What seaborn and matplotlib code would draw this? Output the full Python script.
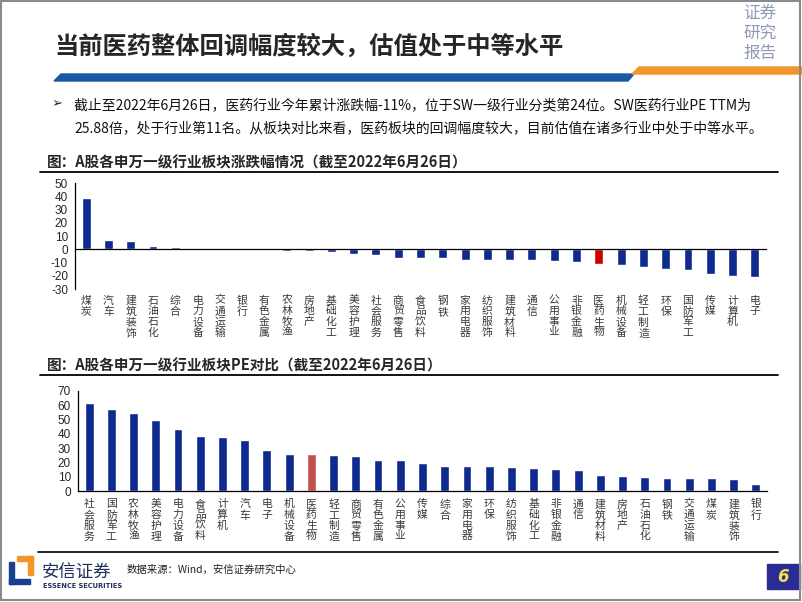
import matplotlib
matplotlib.use("Agg")
import matplotlib.pyplot as plt
import seaborn as sns
import numpy as np
from matplotlib.patches import Polygon, Rectangle

# 申万一级行业 今年累计涨跌幅 (%)
chg_names = ["煤炭", "汽车", "建筑装饰", "石油石化", "综合", "电力设备", "交通运输", "银行",
             "有色金属", "农林牧渔", "房地产", "基础化工", "美容护理", "社会服务", "商贸零售",
             "食品饮料", "钢铁", "家用电器", "纺织服饰", "建筑材料", "通信", "公用事业",
             "非银金融", "医药生物", "机械设备", "轻工制造", "环保", "国防军工", "传媒",
             "计算机", "电子"]
chg_vals = [38.9, 6.8, 6.0, 2.8, 2.0, 0.2, -0.7, -0.7, -0.8, -1.5, -1.6, -1.9, -3.3, -4.5,
            -6.3, -6.4, -6.4, -8.3, -8.4, -8.4, -8.4, -9.1, -9.6, -11.2, -11.6, -13.4, -14.9,
            -15.9, -18.4, -20.5, -21.0]
chg_ticks = [-30, -20, -10, 0, 10, 20, 30, 40, 50]

# 申万一级行业 PE TTM
pe_names = ["社会服务", "国防军工", "农林牧渔", "美容护理", "电力设备", "食品饮料", "计算机",
            "汽车", "电子", "机械设备", "医药生物", "轻工制造", "商贸零售", "有色金属",
            "公用事业", "传媒", "综合", "家用电器", "环保", "纺织服饰", "基础化工", "非银金融",
            "通信", "建筑材料", "房地产", "石油石化", "钢铁", "交通运输", "煤炭", "建筑装饰",
            "银行"]
pe_vals = [61.6, 57.5, 54.7, 49.4, 43.1, 38.3, 37.9, 35.5, 28.5, 26.3, 25.88, 25.1, 24.4,
           21.7, 21.6, 19.6, 17.9, 17.9, 17.3, 16.8, 16.3, 15.3, 14.7, 11.2, 10.5, 10.0, 9.5,
           9.4, 9.4, 8.8, 5.2]
pe_ticks = [0, 10, 20, 30, 40, 50, 60, 70]

HIGHLIGHT = "医药生物"

sns.set_style("white")
plt.rcParams["font.family"] = ["Noto Sans CJK SC", "DejaVu Sans"]
plt.rcParams["axes.unicode_minus"] = False

W, H = 802, 602


def fx(x):
    return x / W


def fy(y):
    return 1 - y / H


def box(x0, y0, x1, y1):
    # pixel box -> [left, bottom, width, height] in figure fraction
    return [fx(x0), fy(y1), (x1 - x0) / W, (y1 - y0) / H]


def draw_bars(ax, names, vals, base, hl, ticks, label_y):
    palette = {n: (hl if n == HIGHLIGHT else base) for n in names}
    sns.barplot(x=names, y=vals, hue=names, palette=palette, legend=False,
                width=0.4, saturation=1, ax=ax)
    ax.set_xlim(-0.5, len(names) - 0.5)
    ax.set_ylim(ticks[0], ticks[-1])
    ax.set_yticks(ticks)
    ax.set_yticklabels([str(t) for t in ticks], family="Liberation Sans", fontsize=8.5)
    # vertical category labels, one character per line, below the plot area
    ax.set_xticks([])
    for i, n in enumerate(names):
        ax.text(i, label_y, "\n".join(n), transform=ax.get_xaxis_transform(),
                ha="center", va="top", fontsize=7.8, linespacing=1.08, color="#3a3a3a")
    ax.set_xticks(np.arange(-0.5, len(names), 1), minor=True)
    ax.tick_params(axis="x", which="minor", direction="in", length=3, width=0.8,
                   color="black", labelbottom=False)
    ax.tick_params(axis="y", direction="out", length=3, width=0.8, pad=2, color="black")
    ax.spines["bottom"].set_position(("data", 0))
    ax.spines["top"].set_visible(False)
    ax.spines["right"].set_visible(False)
    for s in ("left", "bottom"):
        ax.spines[s].set_color("black")
        ax.spines[s].set_linewidth(0.9)
    ax.set_xlabel("")
    ax.set_ylabel("")
    ax.patch.set_alpha(0)


fig = plt.figure(figsize=(W / 100, H / 100), dpi=100)

# header decorations
fig.patches.append(Polygon([(fx(54), fy(81)), (fx(61), fy(74)), (fx(634), fy(74)), (fx(628), fy(81))],
                           closed=True, color="#1B57A3", transform=fig.transFigure))
fig.patches.append(Polygon([(fx(632), fy(74)), (fx(639), fy(67)), (fx(802), fy(67)), (fx(802), fy(74))],
                           closed=True, color="#F0962B", transform=fig.transFigure))
fig.text(fx(54), fy(46), "当前医药整体回调幅度较大，估值处于中等水平", fontsize=17.5,
         fontweight="bold", va="center", ha="left")
for i, t in enumerate(["证券", "研究", "报告"]):
    fig.text(fx(760), fy(13 + 20 * i), t, fontsize=12, color="#8D9AB3", ha="center", va="center")

# bullet paragraph
fig.text(fx(52), fy(104), "➢", fontsize=9.5, family="DejaVu Sans", va="center")
fig.text(fx(74), fy(105),
         "截止至2022年6月26日，医药行业今年累计涨跌幅-11%，位于SW一级行业分类第24位。SW医药行业PE TTM为",
         fontsize=10, va="center", color="#111111")
fig.text(fx(74), fy(128),
         "25.88倍，处于行业第11名。从板块对比来看，医药板块的回调幅度较大，目前估值在诸多行业中处于中等水平。",
         fontsize=10, va="center", color="#111111")

# chart 1 caption
fig.text(fx(47), fy(162), "图：A股各申万一级行业板块涨跌幅情况（截至2022年6月26日）",
         fontsize=10.5, fontweight="bold", va="center")
fig.add_artist(plt.Line2D([fx(40), fx(778)], [fy(172), fy(172)], color="black", lw=1.3))

ax1 = fig.add_axes(box(75, 183.3, 766, 289))
draw_bars(ax1, chg_names, chg_vals, "#0E2A8E", "#CC0000", chg_ticks, -0.062)

# chart 2 caption
fig.text(fx(47), fy(365), "图：A股各申万一级行业板块PE对比（截至2022年6月26日）",
         fontsize=10.5, fontweight="bold", va="center")
fig.add_artist(plt.Line2D([fx(40), fx(778)], [fy(375), fy(375)], color="black", lw=1.3))

ax2 = fig.add_axes(box(78, 390.7, 767, 491.3))
draw_bars(ax2, pe_names, pe_vals, "#0E2A8E", "#C0504D", pe_ticks, -0.08)

# footer
fig.add_artist(plt.Line2D([fx(38), fx(778)], [fy(552), fy(552)], color="black", lw=1.2))
fig.patches.append(Rectangle((fx(9), fy(584)), 5 / W, 22 / H, color="#1B3F8F", transform=fig.transFigure))
fig.patches.append(Rectangle((fx(9), fy(584)), 21 / W, 5 / H, color="#1B3F8F", transform=fig.transFigure))
fig.patches.append(Rectangle((fx(17), fy(561)), 16 / W, 5 / H, color="#F0962B", transform=fig.transFigure))
fig.patches.append(Rectangle((fx(28), fy(575)), 5 / W, 19 / H, color="#F0962B", transform=fig.transFigure))
fig.text(fx(42), fy(573), "安信证券", fontsize=12.5, color="#1F2F5E", va="center")
fig.text(fx(43), fy(586), "ESSENCE SECURITIES", fontsize=4.8, fontweight="bold",
         color="#1F2F5E", va="center", family="DejaVu Sans")
fig.text(fx(127), fy(570), "数据来源：Wind，安信证券研究中心", fontsize=7.5, va="center",
         color="#222222")
fig.patches.append(Rectangle((fx(767), fy(589)), 33 / W, 25 / H, color="#2B2B96",
                             transform=fig.transFigure))
fig.text(fx(783), fy(577), "6", fontsize=12, fontweight="bold", style="italic",
         color="#F2E14C", ha="center", va="center", family="DejaVu Sans")

# page frame
fig.patches.append(Rectangle((fx(1), fy(600)), 799 / W, 599 / H, fill=False,
                             edgecolor="#8A8A8A", lw=1.5, transform=fig.transFigure))

fig.savefig("out.png", dpi=100)
